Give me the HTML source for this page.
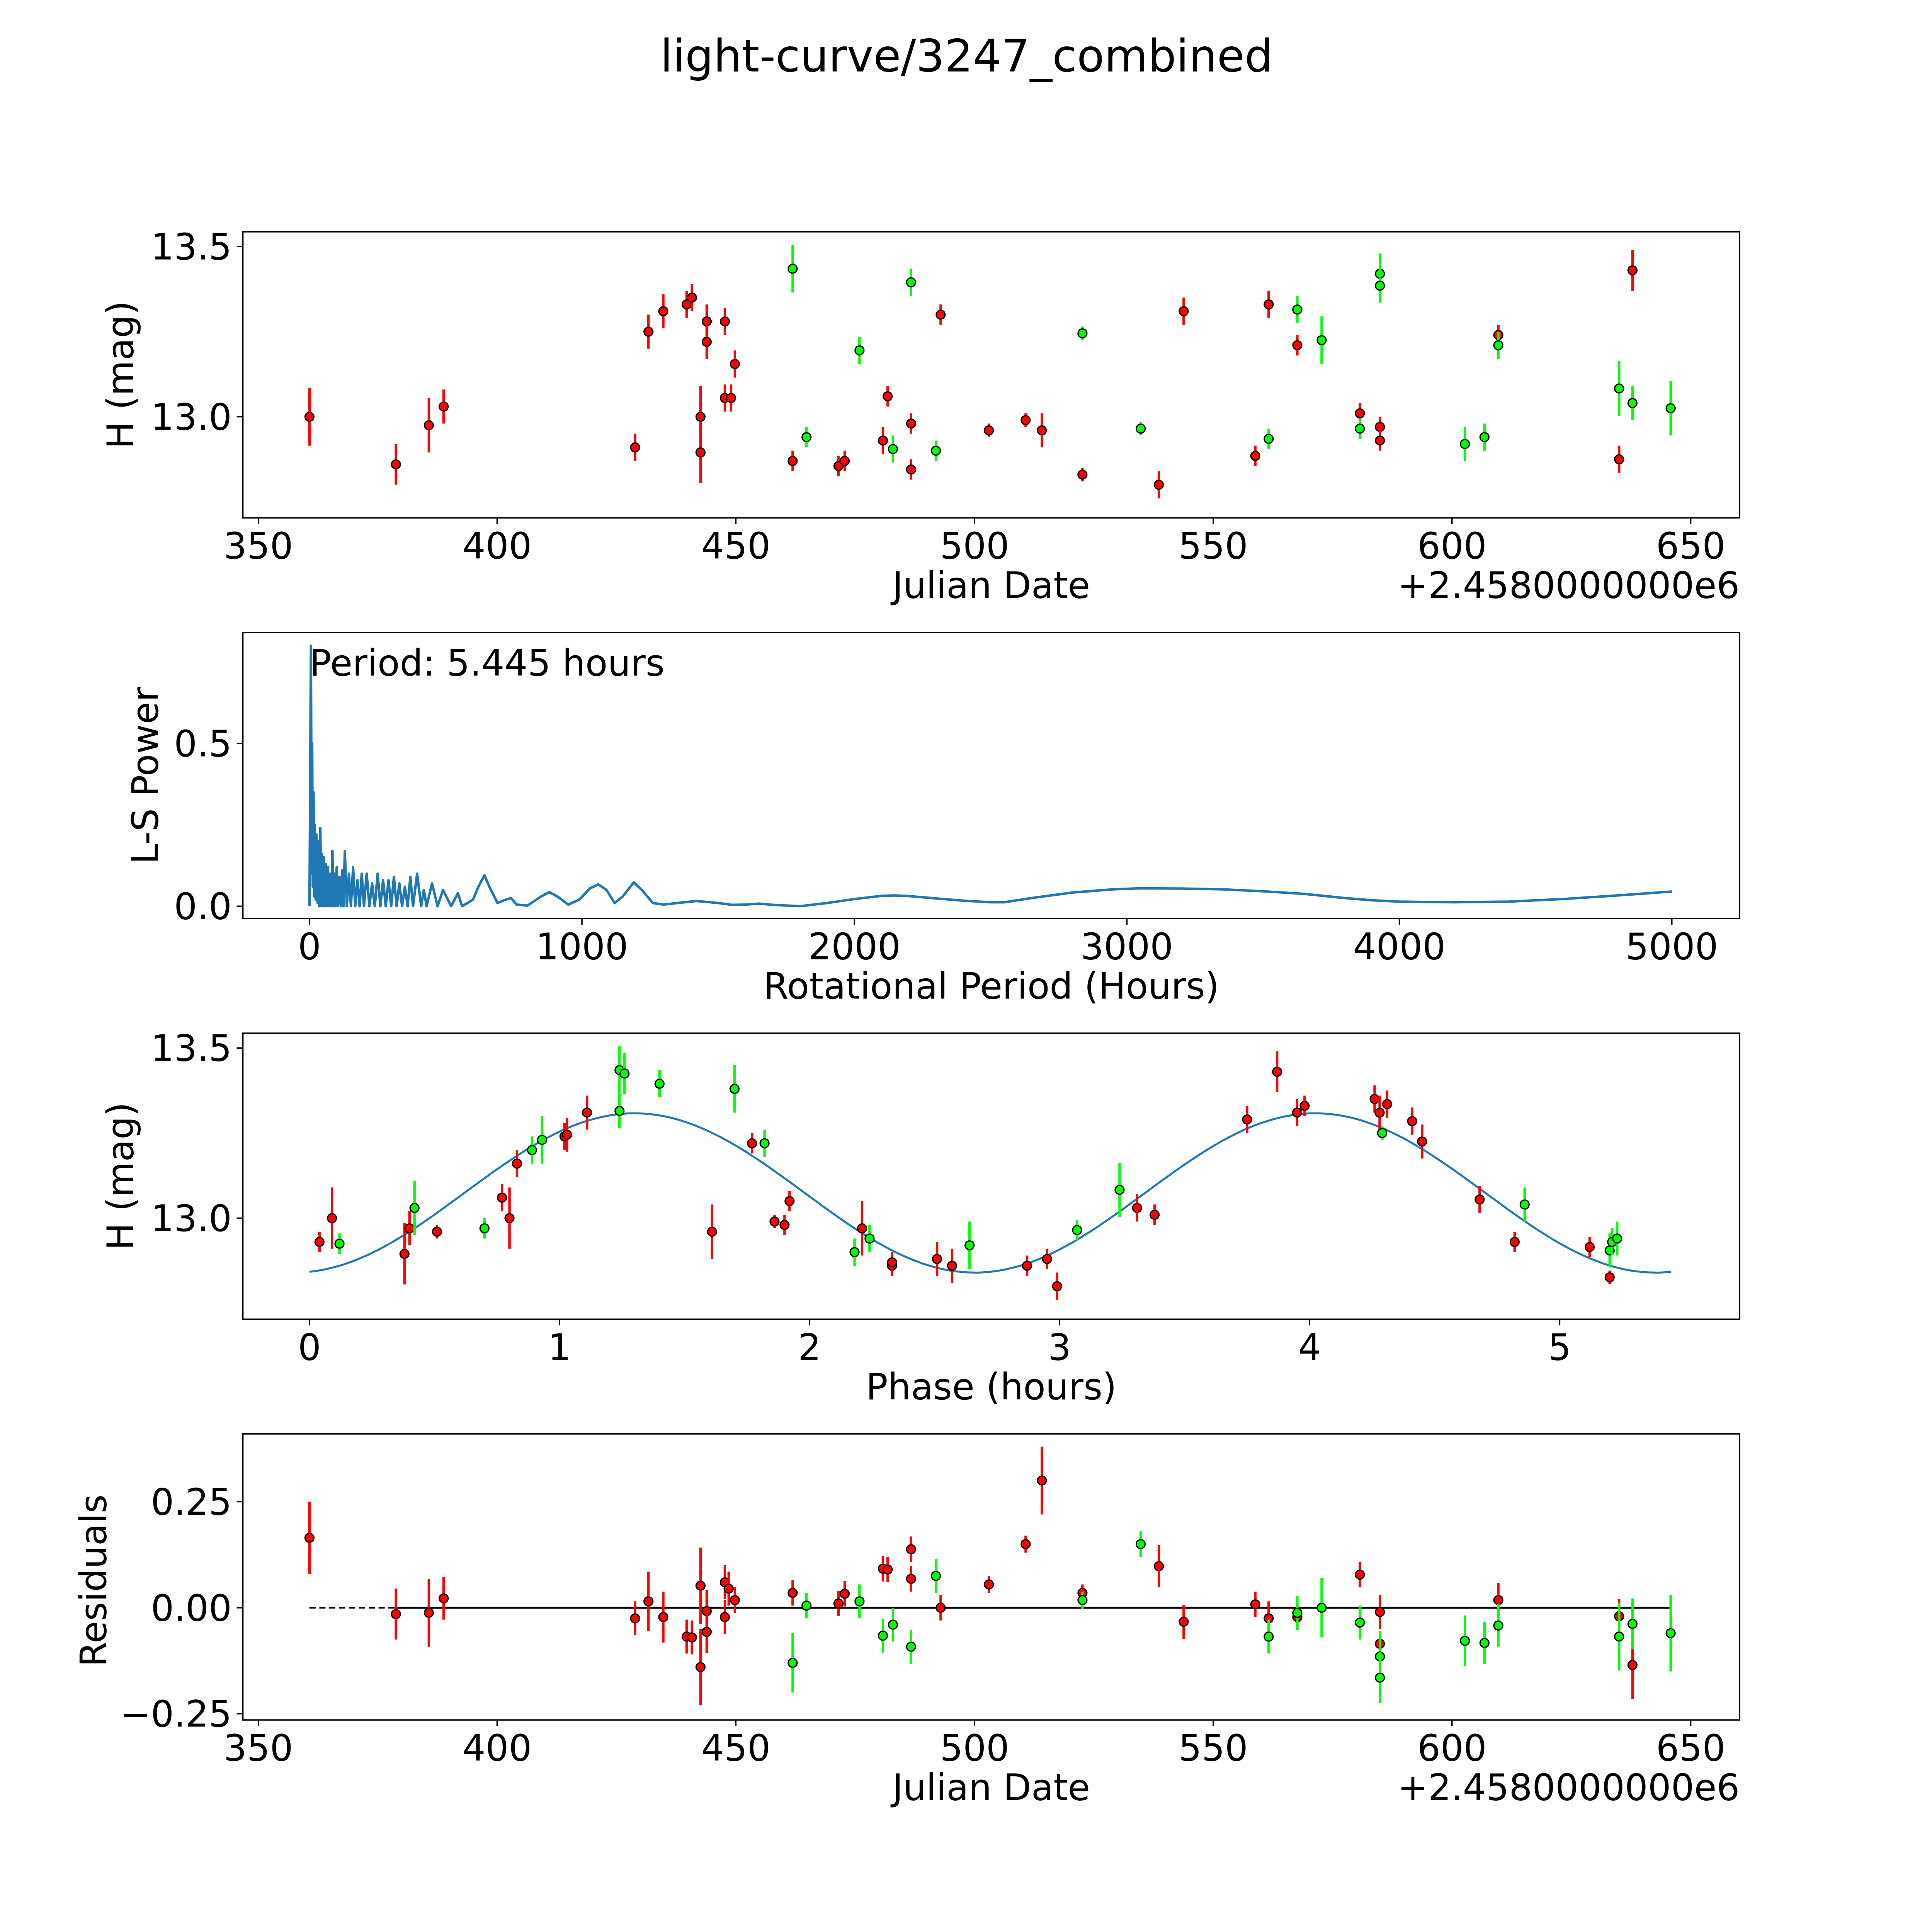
<!DOCTYPE html>
<html><head><meta charset="utf-8"><style>
html,body{margin:0;padding:0;background:#fff;width:100%;height:100%;overflow:hidden;}
svg{display:block;width:100vw;height:100vh;}
text{font-family:"DejaVu Sans","Liberation Sans",sans-serif;fill:#000;}
</style></head><body>
<svg id="fig" xmlns="http://www.w3.org/2000/svg" viewBox="0 0 1567 1567" preserveAspectRatio="xMidYMid meet">
<rect width="1567" height="1567" fill="#fff"/>
<text x="784" y="58" font-size="36.3" text-anchor="middle">light-curve/3247_combined</text>
</svg>
<script>
// ---------- data: panel 1 (light curve) ----------
const lcRedJD  =[360.7,378.8,385.7,388.8,428.9,431.7,434.8,439.7,440.8,442.6,442.6,443.9,443.9,447.7,447.7,449.0,449.8,461.9,471.5,472.8,480.8,481.8,486.7,486.7,492.9,503.0,510.7,514.1,522.6,538.6,543.8,558.8,561.6,567.6,580.7,584.9,584.9,609.7,635.0,637.8];
const lcRedMag =[13.00,12.86,12.975,13.03,12.91,13.25,13.31,13.33,13.35,13.00,12.895,13.28,13.22,13.28,13.055,13.055,13.155,12.87,12.855,12.87,12.93,13.06,12.98,12.845,13.30,12.96,12.99,12.96,12.83,12.80,13.31,12.885,13.33,13.21,13.01,12.97,12.93,13.24,12.875,13.43];
const lcRedErr =[0.085,0.06,0.08,0.05,0.04,0.05,0.05,0.04,0.04,0.09,0.09,0.05,0.05,0.04,0.04,0.04,0.04,0.03,0.03,0.03,0.04,0.03,0.03,0.03,0.03,0.02,0.02,0.05,0.02,0.04,0.04,0.03,0.04,0.03,0.03,0.03,0.03,0.03,0.04,0.06];
const lcGrnJD  =[461.9,464.8,475.9,482.9,486.7,491.9,522.6,534.8,561.6,567.6,572.7,580.7,584.9,584.9,602.7,606.8,609.7,635.0,637.8,645.8];
const lcGrnMag =[13.435,12.94,13.195,12.905,13.395,12.90,13.245,12.965,12.935,13.315,13.225,12.965,13.42,13.385,12.92,12.94,13.21,13.083,13.04,13.025];
const lcGrnErr =[0.07,0.03,0.04,0.04,0.04,0.03,0.02,0.02,0.03,0.04,0.07,0.03,0.06,0.05,0.05,0.04,0.04,0.08,0.05,0.08];
const jdTicks=[350,400,450,500,550,600,650];
const magTicks=[13.0,13.5];
// ---------- data: panel 2 (periodogram) ----------
const lsPeriod=[0,5.4,8,10,12,15,17,20,23,26,30,33,36,40,43,46,50,53,56,60,64,68,72,76,80,84,88,92,96,100,105,110,115,120,125,130,137,145,152,160,168,176,184,192,200,210,220,230,240,250,260,270,280,290,300,310,320,330,340,350,360,370,380,395,410,420,430,450,470,490,520,545,560,580,600,620,642,660,690,720,740,760,800,850,880,910,950,990,1030,1060,1090,1120,1150,1190,1220,1260,1300,1350,1420,1500,1550,1600,1650,1700,1800,1900,2000,2100,2150,2200,2300,2400,2500,2550,2650,2800,2950,3050,3200,3350,3500,3650,3800,3900,4000,4200,4400,4600,4800,5000];
const lsPower =[0,0.80,0.10,0.50,0.06,0.35,0.03,0.25,0.02,0.22,0.01,0.20,0.0,0.24,0.0,0.16,0.0,0.15,0.0,0.13,0.0,0.12,0.0,0.10,0.0,0.17,0.0,0.10,0.0,0.12,0.0,0.09,0.0,0.11,0.0,0.17,0.0,0.10,0.0,0.12,0.0,0.08,0.0,0.10,0.0,0.10,0.0,0.07,0.0,0.10,0.0,0.08,0.0,0.08,0.0,0.09,0.0,0.07,0.0,0.06,0.0,0.09,0.0,0.10,0.0,0.05,0.0,0.07,0.0,0.05,0.0,0.04,0.0,0.01,0.02,0.06,0.095,0.06,0.01,0.02,0.025,0.005,0.002,0.03,0.043,0.03,0.005,0.02,0.055,0.067,0.05,0.01,0.03,0.073,0.05,0.01,0.005,0.01,0.016,0.01,0.004,0.005,0.008,0.004,0.0,0.01,0.022,0.032,0.033,0.031,0.024,0.017,0.012,0.012,0.025,0.042,0.052,0.055,0.054,0.052,0.046,0.038,0.025,0.018,0.014,0.012,0.014,0.022,0.033,0.045];
const perTicks=[0,1000,2000,3000,4000,5000];
const powTicks=[0.0,0.5];
// ---------- data: panel 3 (phase) ----------
const phRedP  =[0.04,0.09,0.38,0.40,0.51,0.77,0.80,0.83,1.02,1.03,1.11,1.61,1.77,1.86,1.90,1.92,2.21,2.33,2.33,2.51,2.57,2.87,2.95,2.99,3.31,3.38,3.75,3.87,3.95,3.98,4.26,4.28,4.31,4.41,4.45,4.68,4.82,5.12,5.20];
const phRedMag=[12.93,13.0,12.895,12.97,12.96,13.06,13.0,13.16,13.24,13.245,13.31,12.96,13.22,12.99,12.98,13.05,12.97,12.86,12.87,12.88,12.86,12.86,12.88,12.80,13.03,13.01,13.29,13.43,13.31,13.33,13.35,13.31,13.335,13.285,13.225,13.055,12.93,12.915,12.826];
const phRedErr=[0.03,0.09,0.09,0.05,0.02,0.04,0.09,0.04,0.04,0.05,0.05,0.08,0.03,0.02,0.03,0.03,0.08,0.03,0.03,0.05,0.05,0.03,0.03,0.04,0.04,0.03,0.04,0.06,0.04,0.03,0.04,0.05,0.04,0.04,0.05,0.04,0.03,0.03,0.02];
const phGrnP  =[0.12,0.42,0.70,0.89,0.93,1.24,1.24,1.26,1.40,1.70,1.82,2.18,2.24,2.64,3.07,3.24,4.29,4.86,5.20,5.21,5.23];
const phGrnMag=[12.925,13.03,12.97,13.20,13.23,13.315,13.435,13.425,13.395,13.38,13.22,12.90,12.94,12.92,12.965,13.083,13.25,13.04,12.905,12.93,12.94];
const phGrnErr=[0.03,0.08,0.03,0.04,0.07,0.05,0.07,0.06,0.04,0.07,0.04,0.04,0.04,0.07,0.03,0.08,0.02,0.05,0.05,0.04,0.05];
const phTicks=[0,1,2,3,4,5];
const modelMean=13.074, modelAmp=0.234, modelPeak=1.30, modelPeriod=5.445;
// ---------- data: panel 4 (residuals) ----------
const rsRedJD =[360.7,378.8,385.7,388.8,428.9,431.7,434.8,439.7,440.8,442.6,442.6,443.9,443.9,447.7,447.7,448.5,449.8,461.9,471.5,472.8,480.8,481.8,486.7,486.7,492.9,503.0,510.7,514.1,522.6,538.6,543.8,558.8,561.6,567.6,580.7,584.9,584.9,609.7,635.0,637.8];
const rsRedVal=[0.165,-0.015,-0.012,0.022,-0.025,0.015,-0.022,-0.068,-0.07,0.052,-0.14,-0.008,-0.057,0.06,-0.022,0.045,0.018,0.035,0.01,0.033,0.092,0.09,0.138,0.068,0.0,0.055,0.15,0.30,0.035,0.098,-0.033,0.008,-0.025,-0.022,0.078,-0.01,-0.085,0.018,-0.02,-0.135];
const rsRedErr=[0.085,0.06,0.08,0.05,0.04,0.07,0.06,0.04,0.04,0.09,0.09,0.05,0.05,0.04,0.04,0.04,0.03,0.03,0.03,0.03,0.03,0.03,0.03,0.03,0.03,0.02,0.02,0.08,0.02,0.05,0.04,0.03,0.04,0.03,0.03,0.04,0.03,0.04,0.04,0.08];
const rsGrnJD =[461.9,464.8,475.9,480.8,482.9,486.7,491.9,522.6,534.8,561.6,567.6,572.7,580.7,584.9,584.9,602.7,606.8,609.7,635.0,637.8,645.8];
const rsGrnVal=[-0.13,0.005,0.015,-0.066,-0.04,-0.092,0.075,0.018,0.15,-0.068,-0.012,0.0,-0.035,-0.115,-0.165,-0.078,-0.083,-0.042,-0.068,-0.038,-0.06];
const rsGrnErr=[0.07,0.03,0.04,0.04,0.04,0.04,0.04,0.02,0.03,0.04,0.04,0.07,0.04,0.06,0.06,0.06,0.05,0.05,0.08,0.06,0.09];
const resTicks=[-0.25,0.00,0.25];

const NS="http://www.w3.org/2000/svg";
const svg=document.getElementById('fig');
function el(tag,attrs,parent){const e=document.createElementNS(NS,tag);for(const k in attrs)e.setAttribute(k,attrs[k]);(parent||svg).appendChild(e);return e;}
const L=197,R=1411,H=232;
const TF=29.5, LF=29.5;
function lin(d0,d1,r0,r1){return v=>r0+(v-d0)/(d1-d0)*(r1-r0);}
function axesFrame(top,name){
  const g=el('g',{});
  
  
  return g;
}
function frame(g,top){const r=el('rect',{x:L,y:top,width:R-L,height:H,fill:'none',stroke:'#000','stroke-width':1.1},g);
  }
function xticks(g,top,ticks,sx,fmt){ticks.forEach(t=>{const x=sx(t);
  el('line',{x1:x,x2:x,y1:top+H,y2:top+H+5,stroke:'#000','stroke-width':1.1},g);
  const tx=el('text',{x:x,y:top+H+33,'font-size':TF,'text-anchor':'middle'},g);tx.textContent=fmt(t);
  });}
function yticks(g,ticks,sy,fmt){ticks.forEach(t=>{const y=sy(t);
  el('line',{x1:L-5,x2:L,y1:y,y2:y,stroke:'#000','stroke-width':1.1},g);
  const tx=el('text',{x:L-9,y:y+10.5,'font-size':TF,'text-anchor':'end'},g);tx.textContent=fmt(t);
  });}
function label(g,x,y,txt,rot,name){const t=el('text',{x:x,y:y,'font-size':LF,'text-anchor':'middle',transform:rot?`rotate(-90 ${x} ${y})`:''},g);t.textContent=txt;
  }
function points(g,xs,ys,es,sx,sy,col){xs.forEach((xv,i)=>{const x=sx(xv);
  const l=el('line',{x1:x,x2:x,y1:sy(ys[i]-es[i]),y2:sy(ys[i]+es[i]),stroke:col,'stroke-width':2},g);
  
  const c=el('circle',{cx:x,cy:sy(ys[i]),r:3.6,fill:col,stroke:'#000','stroke-width':1},g);
  });}
function fmt2(v){return (v<0?'\u2212':'')+Math.abs(v).toFixed(2);}

// Panel 1
{const top=188,g=axesFrame(top,'light-curve-panel');
 const sx=lin(346.75,660.25,L,R), sy=lin(13,13.5,338,200);
 points(g,lcRedJD,lcRedMag,lcRedErr,sx,sy,'#ff0000');
 points(g,lcGrnJD,lcGrnMag,lcGrnErr,sx,sy,'#00ff00');
 frame(g,top);xticks(g,top,jdTicks,sx,t=>String(t));yticks(g,magTicks,sy,t=>t.toFixed(1));
 label(g,804,485,'Julian Date',false,'x-axis-title');label(g,108,304,'H (mag)',true,'y-axis-title');
 const o=el('text',{x:R,y:485,'font-size':LF,'text-anchor':'end'},g);o.textContent='+2.4580000000e6';
 }
// Panel 2
{const top=513,g=axesFrame(top,'periodogram-panel');
 const sx=lin(0,5000,251,1356), sy=lin(0,0.5,735,603);
 const pts=lsPeriod.map((p,i)=>sx(p).toFixed(1)+','+sy(lsPower[i]).toFixed(1)).join(' ');
 const pl=el('polyline',{points:pts,fill:'none',stroke:'#1f77b4','stroke-width':2,'stroke-linejoin':'round'},g);
 
 frame(g,top);xticks(g,top,perTicks,sx,t=>String(t));yticks(g,powTicks,sy,t=>t.toFixed(1));
 label(g,804,810,'Rotational Period (Hours)',false,'x-axis-title');label(g,128,629,'L-S Power',true,'y-axis-title');
 const a=el('text',{x:251,y:548,'font-size':LF},g);a.textContent='Period: 5.445 hours';
 }
// Panel 3
{const top=838,g=axesFrame(top,'phase-panel');
 const sx=lin(0,5,251,1265), sy=lin(13,13.5,988,850);
 let pts=[];for(let i=0;i<=300;i++){const p=modelPeriod*i/300;const v=modelMean+modelAmp*Math.cos(4*Math.PI*(p-modelPeak)/modelPeriod);pts.push(sx(p).toFixed(1)+','+sy(v).toFixed(1));}
 const pl=el('polyline',{points:pts.join(' '),fill:'none',stroke:'#1f77b4','stroke-width':1.6},g);
 
 points(g,phRedP,phRedMag,phRedErr,sx,sy,'#ff0000');
 points(g,phGrnP,phGrnMag,phGrnErr,sx,sy,'#00ff00');
 frame(g,top);xticks(g,top,phTicks,sx,t=>String(t));yticks(g,magTicks,sy,t=>t.toFixed(1));
 label(g,804,1135,'Phase (hours)',false,'x-axis-title');label(g,108,954,'H (mag)',true,'y-axis-title');}
// Panel 4
{const top=1163,g=axesFrame(top,'residuals-panel');
 const sx=lin(346.75,660.25,L,R), sy=lin(0,0.25,1304,1218);
 const d=el('line',{x1:sx(360.7),x2:sx(378.8),y1:sy(0),y2:sy(0),stroke:'#000','stroke-width':1.3,'stroke-dasharray':'5,3'},g);
 
 const s=el('line',{x1:sx(378.8),x2:sx(645.8),y1:sy(0),y2:sy(0),stroke:'#000','stroke-width':1.6},g);
 
 points(g,rsRedJD,rsRedVal,rsRedErr,sx,sy,'#ff0000');
 points(g,rsGrnJD,rsGrnVal,rsGrnErr,sx,sy,'#00ff00');
 frame(g,top);xticks(g,top,jdTicks,sx,t=>String(t));yticks(g,resTicks,sy,fmt2);
 label(g,804,1460,'Julian Date',false,'x-axis-title');label(g,86,1282,'Residuals',true,'y-axis-title');
 const o=el('text',{x:R,y:1460,'font-size':LF,'text-anchor':'end'},g);o.textContent='+2.4580000000e6';
 }
</script>
</body></html>
